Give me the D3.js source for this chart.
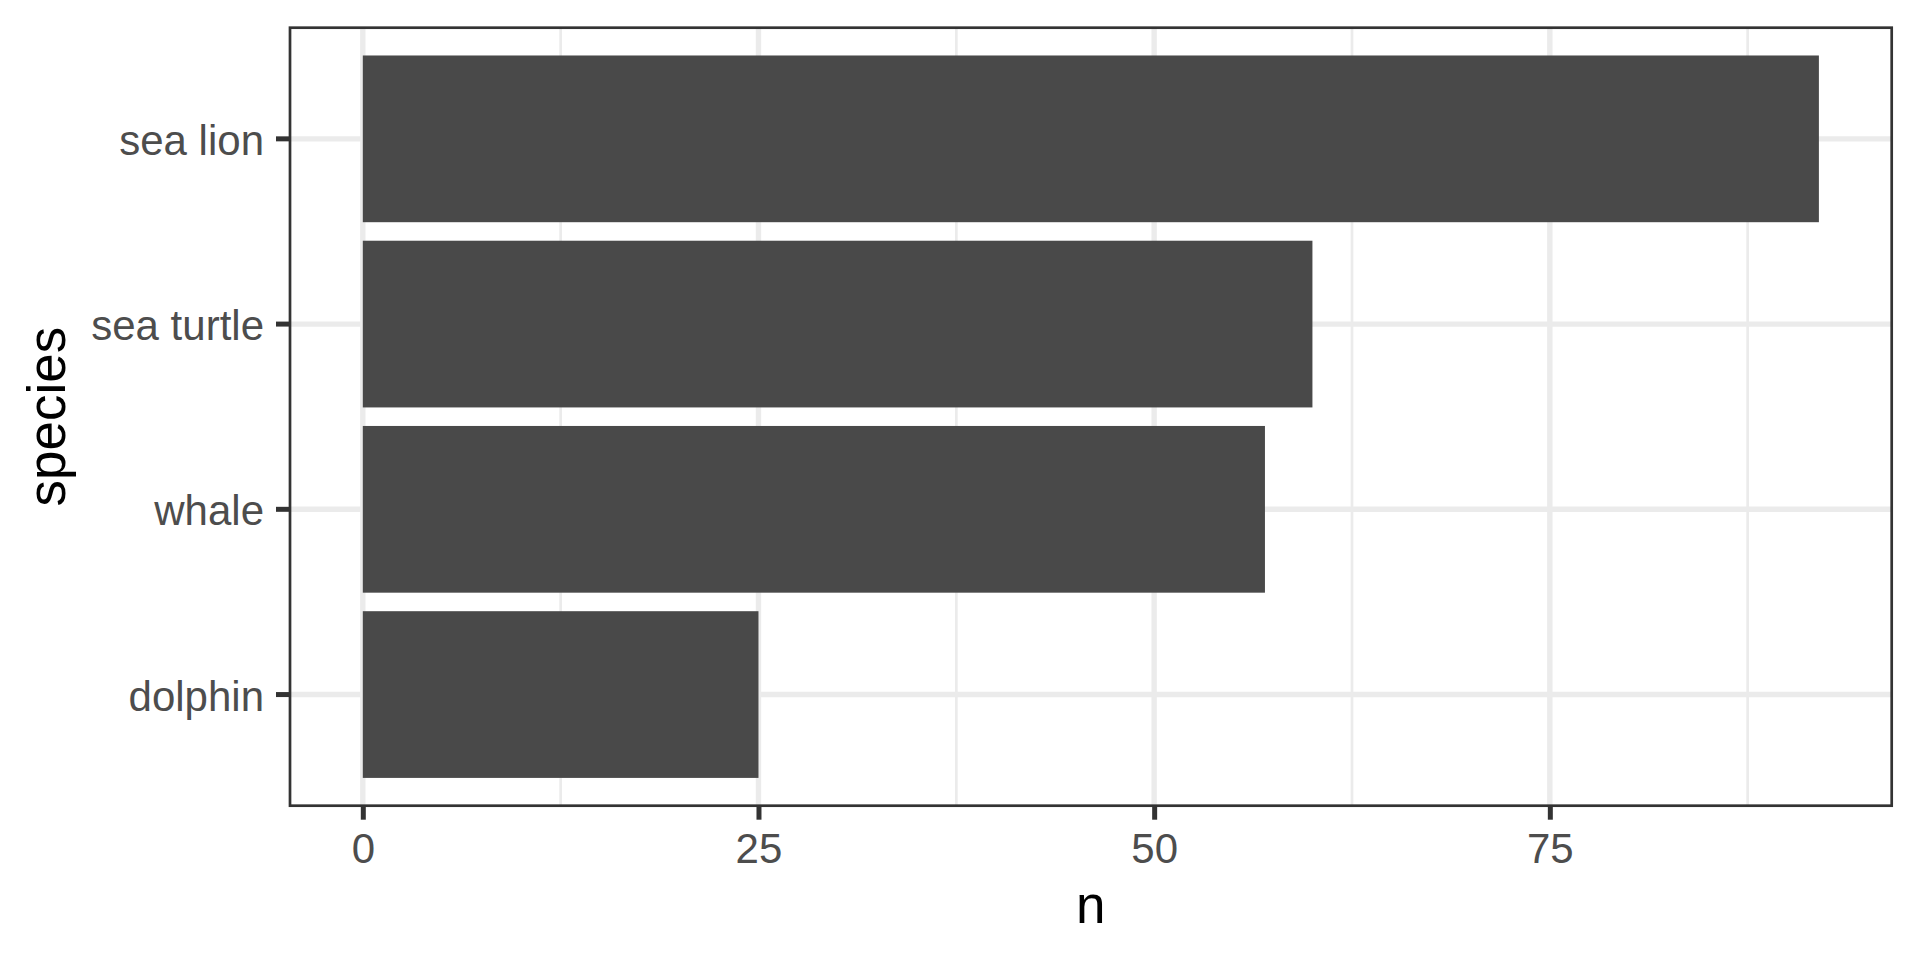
<!DOCTYPE html>
<html>
<head>
<meta charset="utf-8">
<script src="https://cdn.jsdelivr.net/npm/d3@7"></script>
<style>
  html, body { margin: 0; padding: 0; background: #fff; }
  svg { display: block; }
  text { font-family: "Liberation Sans", Arial, Helvetica, sans-serif; }
</style>
</head>
<body>
<svg id="chart" width="1920" height="960"></svg>
<script>
// Data
const species = ["dolphin", "whale", "sea turtle", "sea lion"];
const counts = [25, 57, 60, 92];
const xTicks = [0, 25, 50, 75];
const xMinor = [12.5, 37.5, 62.5, 87.5];

const W = 1920, H = 960;
const panel = { left: 290, right: 1891.7, top: 27.7, bottom: 805.7 };

const svg = d3.select("#chart");
svg.append("rect").attr("width", W).attr("height", H).attr("fill", "#fff");

const maxV = d3.max(counts);
const x = d3.scaleLinear()
  .domain([-0.05 * maxV, maxV * 1.05])
  .range([panel.left, panel.right]);

const y = d3.scaleBand()
  .domain(species.slice().reverse())
  .range([panel.top, panel.bottom])
  .paddingInner(0.1)
  .paddingOuter(0.15);

const yc = d => y(d) + y.bandwidth() / 2;

const g = svg.append("g");

// minor grid
g.selectAll("line.minor").data(xMinor).enter().append("line")
  .attr("x1", d => x(d)).attr("x2", d => x(d))
  .attr("y1", panel.top).attr("y2", panel.bottom)
  .attr("stroke", "#ebebeb").attr("stroke-width", 2.7);

// major grid vertical
g.selectAll("line.majx").data(xTicks).enter().append("line")
  .attr("x1", d => x(d)).attr("x2", d => x(d))
  .attr("y1", panel.top).attr("y2", panel.bottom)
  .attr("stroke", "#ebebeb").attr("stroke-width", 5.4);

// major grid horizontal
g.selectAll("line.majy").data(species).enter().append("line")
  .attr("x1", panel.left).attr("x2", panel.right)
  .attr("y1", d => yc(d)).attr("y2", d => yc(d))
  .attr("stroke", "#ebebeb").attr("stroke-width", 5.4);

// bars
g.selectAll("rect.bar").data(species).enter().append("rect")
  .attr("x", x(0))
  .attr("y", d => y(d))
  .attr("width", (d, i) => x(counts[i]) - x(0))
  .attr("height", y.bandwidth())
  .attr("fill", "#494949");

// panel border
g.append("rect")
  .attr("x", panel.left).attr("y", panel.top)
  .attr("width", panel.right - panel.left).attr("height", panel.bottom - panel.top)
  .attr("fill", "none").attr("stroke", "#333333").attr("stroke-width", 2.7);

// x axis
const xAxis = svg.append("g")
  .attr("transform", `translate(0,${panel.bottom})`)
  .call(d3.axisBottom(x).tickValues(xTicks).tickSize(14).tickPadding(13).tickFormat(d3.format("d")));
xAxis.select(".domain").remove();
xAxis.selectAll(".tick line").attr("stroke", "#333333").attr("stroke-width", 5);
xAxis.selectAll(".tick text")
  .attr("fill", "#4d4d4d").attr("font-size", 42)
  .attr("font-family", "Liberation Sans, Arial, sans-serif");

// y axis
const yAxis = svg.append("g")
  .attr("transform", `translate(${panel.left},0)`)
  .call(d3.axisLeft(y).tickSize(14).tickPadding(12));
yAxis.select(".domain").remove();
yAxis.selectAll(".tick line").attr("stroke", "#333333").attr("stroke-width", 5);
yAxis.selectAll(".tick text")
  .attr("fill", "#4d4d4d").attr("font-size", 42)
  .attr("dy", "0.38em")
  .attr("font-family", "Liberation Sans, Arial, sans-serif");

// axis titles
svg.append("text")
  .attr("x", (panel.left + panel.right) / 2)
  .attr("y", 923)
  .attr("text-anchor", "middle")
  .attr("font-size", 53)
  .attr("fill", "#000")
  .text("n");

svg.append("text")
  .attr("transform", `translate(65,${(panel.top + panel.bottom) / 2}) rotate(-90)`)
  .attr("text-anchor", "middle")
  .attr("font-size", 53)
  .attr("fill", "#000")
  .text("species");
</script>
</body>
</html>
